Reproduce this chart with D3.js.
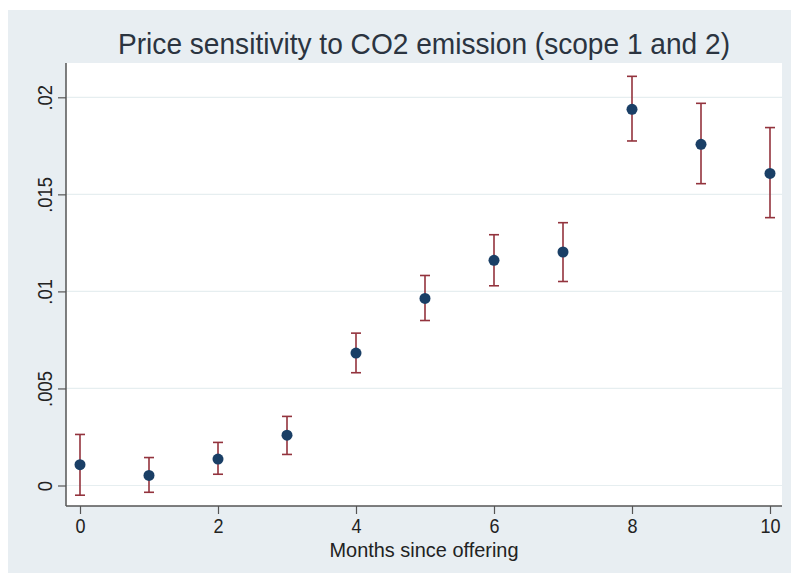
<!DOCTYPE html>
<html>
<head>
<meta charset="utf-8">
<script src="https://cdn.jsdelivr.net/npm/d3@7/dist/d3.min.js"></script>
<style>
  html, body { margin: 0; padding: 0; background: #ffffff; }
  svg { display: block; }
  text { font-family: "Liberation Sans", Arial, Helvetica, sans-serif; }
</style>
</head>
<body>
<svg id="chart" width="791" height="581"></svg>
<script>
// ---- data ----
const titleText = "Price sensitivity to CO2 emission (scope 1 and 2)";
const xAxisTitle = "Months since offering";
const months = [0, 1, 2, 3, 4, 5, 6, 7, 8, 9, 10];
const coef   = [0.00107, 0.00052, 0.00136, 0.00259, 0.00682, 0.00964, 0.01160, 0.01203, 0.01938, 0.01758, 0.01608];
const upper  = [0.00263, 0.00144, 0.00222, 0.00356, 0.00785, 0.01082, 0.01292, 0.01354, 0.02108, 0.01969, 0.01844];
const lower  = [-0.00050, -0.00035, 0.00058, 0.00160, 0.00581, 0.00850, 0.01029, 0.01051, 0.01775, 0.01555, 0.01380];
const xTicks = [0, 2, 4, 6, 8, 10];
const yTicks = [0, 0.005, 0.01, 0.015, 0.02];
const yTickLabels = ["0", ".005", ".01", ".015", ".02"];

// ---- layout ----
const W = 791, H = 581;
const plot = { left: 66, right: 782, top: 63, bottom: 506 };

const svg = d3.select("#chart");

// outer graph region
svg.append("rect").attr("x", 8).attr("y", 10).attr("width", W - 8).attr("height", 563)
  .attr("fill", "#e8eef2");

// plot region
svg.append("rect")
  .attr("x", plot.left).attr("y", plot.top)
  .attr("width", plot.right - plot.left).attr("height", plot.bottom - plot.top)
  .attr("fill", "#ffffff");

const x = d3.scaleLinear().domain([0, 10]).range([80, 770]);
const y = d3.scaleLinear().domain([0, 0.02]).range([485.5, 97.3]);

// gridlines
svg.append("g").selectAll("line").data(yTicks).join("line")
  .attr("x1", plot.left).attr("x2", plot.right)
  .attr("y1", d => y(d)).attr("y2", d => y(d))
  .attr("stroke", "#e6eef0").attr("stroke-width", 1.2);

// y axis
const yAxis = d3.axisLeft(y).tickValues(yTicks).tickSize(8).tickPadding(6)
  .tickFormat((d, i) => yTickLabels[i]);
const gy = svg.append("g").attr("transform", `translate(${plot.left},0)`).call(yAxis);
gy.select(".domain").remove();
gy.selectAll(".tick line").attr("stroke", "#555").attr("stroke-width", 1.2);
gy.selectAll(".tick text")
  .attr("x", null).attr("dy", null)
  .attr("text-anchor", "middle")
  .attr("transform", "translate(-14,0) rotate(-90) scale(0.9,1)")
  .attr("font-size", 20.5).attr("fill", "#222");
svg.append("line").attr("x1", plot.left).attr("x2", plot.left)
  .attr("y1", plot.top).attr("y2", plot.bottom)
  .attr("stroke", "#555").attr("stroke-width", 1.5);

// x axis
const xAxis = d3.axisBottom(x).tickValues(xTicks).tickSize(8).tickPadding(5)
  .tickFormat(d3.format("d"));
const gx = svg.append("g").attr("transform", `translate(0,${plot.bottom})`).call(xAxis);
gx.select(".domain").remove();
gx.selectAll(".tick line").attr("stroke", "#555").attr("stroke-width", 1.2);
gx.selectAll(".tick text").attr("font-size", 20).attr("fill", "#222")
  .attr("transform", "scale(0.9,1)")
  .attr("x", function() { return 0; });
gx.selectAll(".tick text").attr("transform", null)
  .each(function() {
    const t = d3.select(this);
    t.attr("transform", "scale(0.9,1)");
  });
svg.append("line").attr("x1", plot.left).attr("x2", plot.right)
  .attr("y1", plot.bottom).attr("y2", plot.bottom)
  .attr("stroke", "#555").attr("stroke-width", 1.5);

// error bars
const eb = svg.append("g").attr("stroke", "#93333d").attr("stroke-width", 1.6).attr("fill", "none");
const capHalf = 5;
months.forEach((m, i) => {
  eb.append("line").attr("x1", x(m)).attr("x2", x(m)).attr("y1", y(lower[i])).attr("y2", y(upper[i]));
  eb.append("line").attr("x1", x(m) - capHalf).attr("x2", x(m) + capHalf).attr("y1", y(upper[i])).attr("y2", y(upper[i]));
  eb.append("line").attr("x1", x(m) - capHalf).attr("x2", x(m) + capHalf).attr("y1", y(lower[i])).attr("y2", y(lower[i]));
});

// points
svg.append("g").selectAll("circle").data(months).join("circle")
  .attr("cx", d => x(d)).attr("cy", (d, i) => y(coef[i]))
  .attr("r", 5.5).attr("fill", "#1a3f66");

// title
svg.append("text").attr("x", (plot.left + plot.right) / 2).attr("y", 54)
  .attr("text-anchor", "middle").attr("font-size", 29).attr("fill", "#2b3440")
  .attr("textLength", 612).attr("lengthAdjust", "spacingAndGlyphs")
  .text(titleText);

// x axis title
svg.append("text").attr("x", (plot.left + plot.right) / 2).attr("y", 557)
  .attr("text-anchor", "middle").attr("font-size", 21).attr("fill", "#222")
  .attr("textLength", 189).attr("lengthAdjust", "spacingAndGlyphs")
  .text(xAxisTitle);
</script>
</body>
</html>
